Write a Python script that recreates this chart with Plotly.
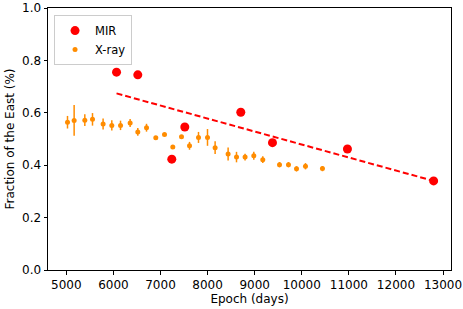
import plotly.graph_objects as go

# MIR measurements
mir_epoch = [6066, 6518, 7240, 7516, 8705, 9378, 10970, 12800]
mir_frac = [0.755, 0.745, 0.423, 0.546, 0.602, 0.486, 0.462, 0.340]

# X-ray measurements
xray_epoch = [5025, 5166, 5393, 5556, 5781, 5966, 6151, 6355, 6518, 6703,
              6900, 7085, 7261, 7446, 7616, 7807, 7998, 8160, 8436, 8614,
              8796, 8981, 9172, 9527, 9718, 9888, 10079, 10439]
xray_frac = [0.564, 0.571, 0.572, 0.575, 0.557, 0.552, 0.552, 0.561, 0.527, 0.543,
             0.505, 0.517, 0.469, 0.509, 0.474, 0.506, 0.506, 0.467, 0.443, 0.431,
             0.431, 0.436, 0.421, 0.402, 0.402, 0.386, 0.396, 0.387]
xray_err = [0.024, 0.059, 0.022, 0.024, 0.021, 0.020, 0.018, 0.015, 0.015, 0.015,
            0.006, 0.006, 0.006, 0.006, 0.015, 0.021, 0.032, 0.024, 0.025, 0.020,
            0.013, 0.015, 0.013, 0.010, 0.010, 0.010, 0.012, 0.010]

# Linear trend line endpoints (MIR)
fit_epoch = [6066, 12800]
fit_frac = [0.674, 0.340]

x_ticks = [5000, 6000, 7000, 8000, 9000, 10000, 11000, 12000, 13000]
x_ticktext = ["5000", "6000", "7000", "8000", "9000", "10000", "11000", "12000", "13000"]
y_ticks = [0.0, 0.2, 0.4, 0.6, 0.8, 1.0]
y_ticktext = ["0.0", "0.2", "0.4", "0.6", "0.8", "1.0"]

FONT = "DejaVu Sans"
FS = 12

fig = go.Figure()
fig.add_trace(go.Scatter(
    x=mir_epoch, y=mir_frac, mode="markers", name="MIR",
    marker=dict(color="#ff0000", size=9, line=dict(width=0)),
))
fig.add_trace(go.Scatter(
    x=xray_epoch, y=xray_frac, mode="markers", name="X-ray",
    marker=dict(color="#ff8c00", size=5, line=dict(width=0)),
    error_y=dict(type="data", array=xray_err, visible=True, color="#ff8c00",
                 thickness=1.5, width=0),
))
fig.add_trace(go.Scatter(
    x=fit_epoch, y=fit_frac, mode="lines", showlegend=False,
    line=dict(color="#ff0000", width=2, dash="6px,3px"),
))

axis_common = dict(
    showline=True, linecolor="black", linewidth=1, mirror=True,
    ticks="outside", ticklen=3.5, tickwidth=1, tickcolor="black",
    showgrid=False, zeroline=False, automargin=False,
    tickfont=dict(family=FONT, size=FS, color="black"),
)

fig.update_layout(
    width=463, height=309,
    margin=dict(l=48, r=12, t=8, b=39),
    plot_bgcolor="white", paper_bgcolor="white",
    font=dict(family=FONT, size=FS, color="black"),
    xaxis=dict(range=[4611, 13169], tickmode="array", tickvals=x_ticks, ticktext=x_ticktext,
               title=dict(text="Epoch (days)", font=dict(size=FS), standoff=2),
               **axis_common),
    yaxis=dict(range=[0, 1.0], tickmode="array", tickvals=y_ticks, ticktext=y_ticktext,
               title=dict(text="Fraction of the East (%)", font=dict(size=FS), standoff=4),
               **axis_common),
    legend=dict(x=0.015, y=0.973, xanchor="left", yanchor="top",
                bgcolor="rgba(255,255,255,0.8)", bordercolor="#cccccc", borderwidth=1,
                font=dict(size=11.5), tracegroupgap=0, itemwidth=30),
    showlegend=True,
)

fig.write_html("out.html", config={"displayModeBar": False},
               post_script="document.body.style.margin='0px';")
